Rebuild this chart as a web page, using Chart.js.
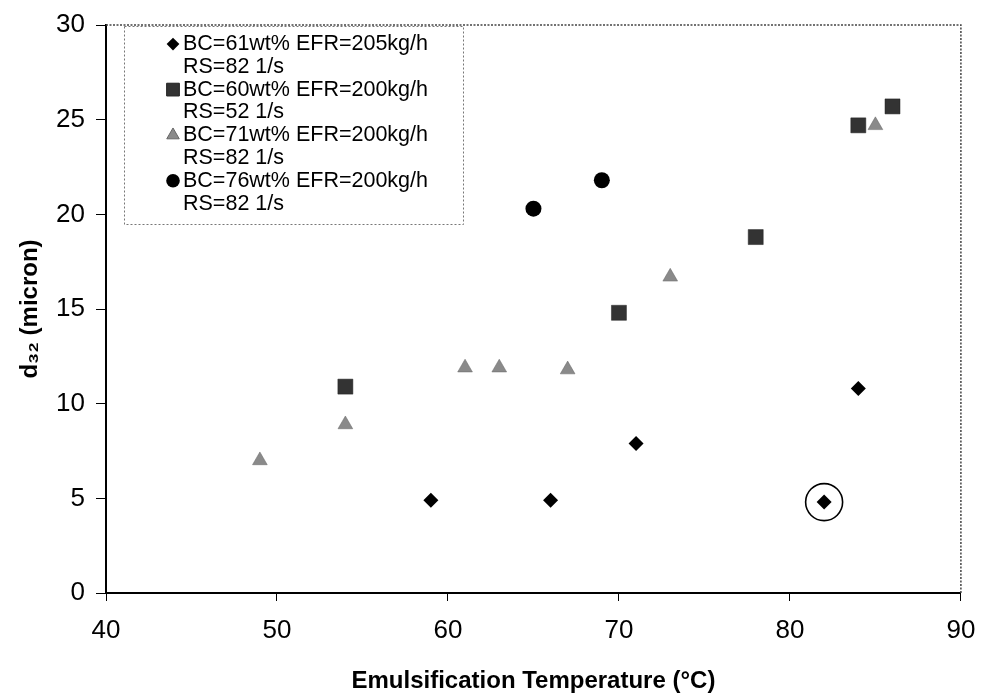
<!DOCTYPE html>
<html><head><meta charset="utf-8">
<script src="https://cdn.jsdelivr.net/npm/chart.js@4.4.1/dist/chart.umd.min.js"></script>
<style>html,body{margin:0;padding:0;background:#fff}#c{display:block}</style>
</head><body>
<canvas id="c" width="981" height="700"></canvas>
<script>
// ---- data ----
const legendLabels = [
  ["BC=61wt% EFR=205kg/h", "RS=82 1/s"],
  ["BC=60wt% EFR=200kg/h", "RS=52 1/s"],
  ["BC=71wt% EFR=200kg/h", "RS=82 1/s"],
  ["BC=76wt% EFR=200kg/h", "RS=82 1/s"]
];
const bc61Temp = [59, 66, 71, 82, 84];
const bc61D32  = [4.9, 4.9, 7.9, 4.8, 10.8];
const bc60Temp = [54, 70, 78, 84, 86];
const bc60D32  = [10.9, 14.8, 18.8, 24.7, 25.7];
const bc71Temp = [49, 54, 61, 63, 67, 73, 85];
const bc71D32  = [7.0, 8.9, 11.9, 11.9, 11.8, 16.7, 24.7];
const bc76Temp = [65, 69];
const bc76D32  = [20.3, 21.8];
const circledTemp = [82];
const circledD32  = [4.8];
const xTickValues = [40, 50, 60, 70, 80, 90];
const yTickValues = [0, 5, 10, 15, 20, 25, 30];
const xTitle = "Emulsification Temperature (°C)";
const yTitle = "d₃₂ (micron)";

const pts = (xs, ys) => xs.map((x, i) => ({x: x, y: ys[i]}));
const FONT = "'Liberation Sans', Arial, Helvetica, sans-serif";

const seriesStyles = [
  {pointStyle: 'rectRot', radius: 7.5, backgroundColor: '#000', borderColor: '#000', borderWidth: 0},
  {pointStyle: 'rect', radius: 10.6, backgroundColor: '#333', borderColor: '#222', borderWidth: 0.5},
  {pointStyle: 'triangle', radius: 8.5, backgroundColor: '#8a8a8a', borderColor: '#666', borderWidth: 0.5},
  {pointStyle: 'circle', radius: 8, backgroundColor: '#000', borderColor: '#000', borderWidth: 0}
];
const seriesData = [pts(bc61Temp, bc61D32), pts(bc60Temp, bc60D32), pts(bc71Temp, bc71D32), pts(bc76Temp, bc76D32)];

const datasets = seriesData.map((d, i) => ({
  label: legendLabels[i].join(' '),
  data: d,
  showLine: false,
  pointStyle: seriesStyles[i].pointStyle,
  pointRadius: seriesStyles[i].radius,
  pointHoverRadius: seriesStyles[i].radius,
  pointBackgroundColor: seriesStyles[i].backgroundColor,
  pointBorderColor: seriesStyles[i].borderColor,
  pointBorderWidth: seriesStyles[i].borderWidth
}));
datasets.push({
  label: 'highlight',
  data: pts(circledTemp, circledD32),
  showLine: false,
  pointStyle: 'circle',
  pointRadius: 18.5,
  pointHoverRadius: 18.5,
  pointBackgroundColor: 'rgba(0,0,0,0)',
  pointBorderColor: '#000',
  pointBorderWidth: 1.6
});

const framePlugin = {
  id: 'frame',
  beforeDatasetsDraw(chart) {
    const {ctx, chartArea: a} = chart;
    ctx.save();
    ctx.setLineDash([2, 1.5]);
    ctx.strokeStyle = '#444';
    ctx.lineWidth = 1.5;
    ctx.beginPath();
    ctx.moveTo(a.left, a.top);
    ctx.lineTo(a.right, a.top);
    ctx.lineTo(a.right, a.bottom);
    ctx.stroke();
    ctx.restore();
  }
};

const legendPlugin = {
  id: 'customLegend',
  afterDatasetsDraw(chart) {
    const {ctx} = chart;
    const bx = 124, by = 26, bw = 339, bh = 198;
    ctx.save();
    ctx.fillStyle = '#fff';
    ctx.fillRect(bx, by, bw, bh);
    ctx.setLineDash([2, 2]);
    ctx.strokeStyle = '#777';
    ctx.lineWidth = 1;
    ctx.strokeRect(bx + 0.5, by + 0.5, bw, bh);
    ctx.setLineDash([]);
    ctx.font = '21.5px ' + FONT;
    ctx.fillStyle = '#000';
    ctx.textBaseline = 'middle';
    ctx.textAlign = 'left';
    const lineH = 22.8;
    let y = 44;
    legendLabels.forEach((lines, i) => {
      const s = seriesStyles[i];
      ctx.fillStyle = s.backgroundColor;
      ctx.strokeStyle = s.borderColor;
      Chart.helpers.drawPoint(ctx, {pointStyle: s.pointStyle, radius: s.radius * 0.85, rotation: 0, borderWidth: s.borderWidth}, 173, y);
      ctx.fillStyle = '#000';
      lines.forEach((t, j) => {
        ctx.fillText(t, 183, y + j * lineH);
      });
      y += lineH * 2;
    });
    ctx.restore();
  }
};

new Chart(document.getElementById('c'), {
  type: 'scatter',
  data: {datasets: datasets},
  plugins: [framePlugin, legendPlugin],
  options: {
    responsive: false,
    animation: false,
    events: [],
    layout: {padding: {top: 25, right: 15, left: 0, bottom: 0}},
    plugins: {legend: {display: false}, tooltip: {enabled: false}},
    scales: {
      x: {
        type: 'linear',
        min: 40, max: 90,
        afterBuildTicks(scale) { scale.ticks = xTickValues.map(v => ({value: v})); },
        afterFit(scale) { scale.height = 107; scale.paddingRight = 0; scale.paddingLeft = 0; },
        grid: {display: true, drawOnChartArea: false, drawTicks: true, tickLength: 8, color: '#000', lineWidth: 1},
        border: {display: true, color: '#000', width: 2},
        ticks: {color: '#000', font: {family: FONT, size: 26}, padding: 14, maxRotation: 0},
        title: {display: true, text: xTitle, color: '#000', font: {family: FONT, size: 24, weight: 'bold'}, padding: {top: 0, bottom: 4}}
      },
      y: {
        type: 'linear',
        min: 0, max: 30,
        afterBuildTicks(scale) { scale.ticks = yTickValues.map(v => ({value: v})); },
        afterFit(scale) { scale.width = 106; scale.paddingTop = 0; scale.paddingBottom = 0; },
        grid: {display: true, drawOnChartArea: false, drawTicks: true, tickLength: 10, color: '#000', lineWidth: 1},
        border: {display: true, color: '#000', width: 2},
        ticks: {color: '#000', font: {family: FONT, size: 26}, padding: 11},
        title: {display: true, text: yTitle, color: '#000', font: {family: FONT, size: 24, weight: 'bold'}, padding: {top: 16, bottom: 0}}
      }
    }
  }
});
</script>
</body></html>
